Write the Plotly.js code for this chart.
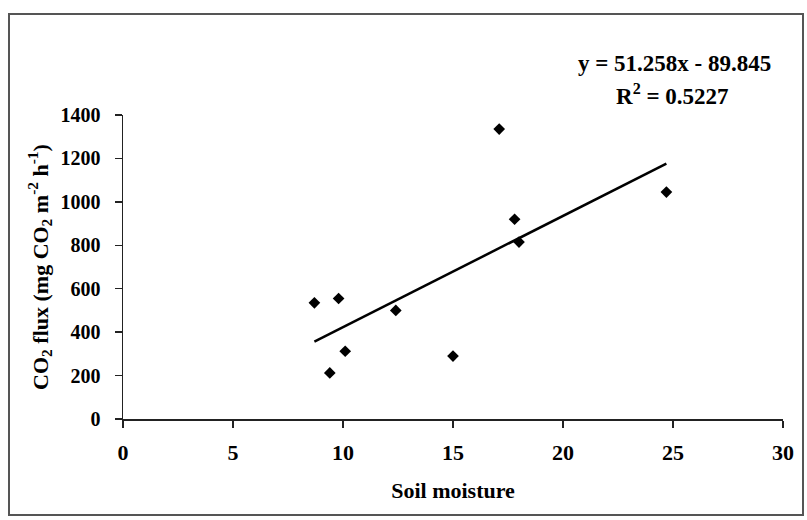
<!DOCTYPE html>
<html>
<head>
<meta charset="utf-8">
<script src="https://cdn.plot.ly/plotly-3.0.1.min.js"></script>
<style>
  html, body { margin: 0; padding: 0; background: #fff; }
  #chart { position: absolute; left: 0; top: 0; width: 807px; height: 520px; }
  #frame { position: absolute; left: 8px; top: 13px; width: 792px; height: 499px;
           border: 2px solid #555; pointer-events: none; }
</style>
</head>
<body>
<div id="chart"></div>
<div id="frame"></div>
<script>
// Data
const soilMoisture = [8.7, 9.4, 9.8, 10.1, 12.4, 15.0, 17.1, 17.8, 18.0, 24.7];
const co2Flux      = [535, 212, 555, 312, 500, 290, 1335, 920, 815, 1045];

// Linear trendline reported on the chart
const trendSlope = 51.258;
const trendIntercept = -89.845;
const rSquared = 0.5227;

const xTicks = [0, 5, 10, 15, 20, 25, 30];
const yTicks = [0, 200, 400, 600, 800, 1000, 1200, 1400];

const xMin = Math.min(...soilMoisture);
const xMax = Math.max(...soilMoisture);
const trendX = [xMin, xMax];
const trendY = trendX.map(v => trendSlope * v + trendIntercept);

const serif = '"Liberation Serif", "Times New Roman", serif';

const traces = [
  {
    x: soilMoisture, y: co2Flux, type: 'scatter', mode: 'markers',
    marker: { symbol: 'diamond', size: 9, color: '#000' },
    showlegend: false, hoverinfo: 'x+y'
  },
  {
    x: trendX, y: trendY, type: 'scatter', mode: 'lines',
    line: { color: '#000', width: 2.5 },
    showlegend: false, hoverinfo: 'skip'
  }
];

const layout = {
  width: 807, height: 520,
  margin: { l: 123, r: 24, t: 115, b: 101 },
  paper_bgcolor: '#fff', plot_bgcolor: '#fff',
  font: { family: serif, color: '#000', size: 20, weight: 700 },
  xaxis: {
    range: [0, 30], tickvals: xTicks, ticktext: xTicks.map(String),
    showgrid: false, zeroline: false, showline: true, linecolor: '#222', linewidth: 1.5,
    ticks: 'outside', ticklen: 7, tickwidth: 1.5, tickcolor: '#222',
    tickfont: { family: serif, size: 22, color: '#000', weight: 700 },
    ticklabelstandoff: 6,
    title: { text: 'Soil moisture', font: { family: serif, size: 22, color: '#000', weight: 700 }, standoff: 18 }
  },
  yaxis: {
    range: [0, 1400], tickvals: yTicks, ticktext: yTicks.map(String),
    showgrid: false, zeroline: false, showline: true, linecolor: '#222', linewidth: 1.5,
    ticks: 'outside', ticklen: 7, tickwidth: 1.5, tickcolor: '#222',
    tickfont: { family: serif, size: 20, color: '#000', weight: 700 },
    ticklabelstandoff: 10,
    title: { text: 'CO<sub>2</sub> flux (mg CO<sub>2</sub> m<sup>-2</sup> h<sup>-1</sup>)',
             font: { family: serif, size: 22, color: '#000', weight: 700 }, standoff: 6 }
  },
  annotations: [
    {
      xref: 'paper', yref: 'paper', x: 0.836, y: 1.171, xanchor: 'center', yanchor: 'middle',
      text: 'y = ' + trendSlope.toFixed(3) + 'x - ' + Math.abs(trendIntercept).toFixed(3),
      showarrow: false, font: { family: serif, size: 23, color: '#000', weight: 700 }
    },
    {
      xref: 'paper', yref: 'paper', x: 0.832, y: 1.066, xanchor: 'center', yanchor: 'middle',
      text: 'R<sup>2</sup> = ' + rSquared.toFixed(4),
      showarrow: false, font: { family: serif, size: 23, color: '#000', weight: 700 }
    }
  ]
};

Plotly.newPlot('chart', traces, layout, { displayModeBar: false, staticPlot: true });
</script>
</body>
</html>
